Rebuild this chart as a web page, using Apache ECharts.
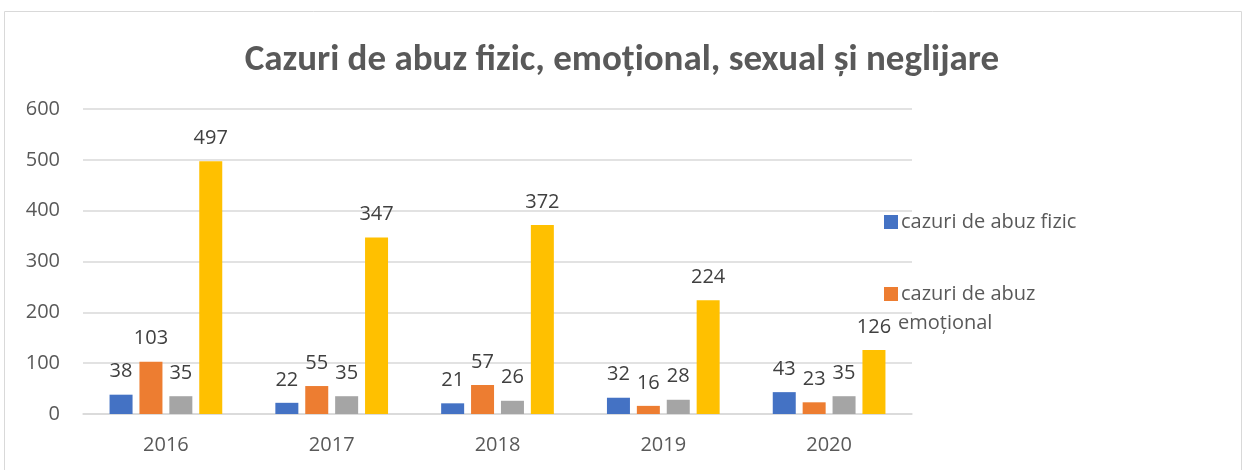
<!DOCTYPE html>
<html>
<head>
<meta charset="utf-8">
<script src="https://cdn.jsdelivr.net/npm/echarts@6/dist/echarts.min.js"></script>
<style>
  body { margin: 0; background: #fff; }
  #main { width: 1244px; height: 470px; }
</style>
</head>
<body>
<div id="main"></div>
<script>
// date
var ani = ['2016', '2017', '2018', '2019', '2020'];
var abuzFizic = [38, 22, 21, 32, 43];
var abuzEmotional = [103, 55, 57, 16, 23];
var abuzSexual = [35, 35, 26, 28, 35];
var neglijare = [497, 347, 372, 224, 126];
var yTicks = [0, 100, 200, 300, 400, 500, 600];

var numeSerii = ['cazuri de abuz fizic', 'cazuri de abuz emoțional', 'cazuri de abuz sexual', 'cazuri de neglijare'];
var culori = ['#4472C4', '#ED7D31', '#A5A5A5', '#FFC000'];
var font = '"Open Sans", "Noto Sans", sans-serif';
var fontTitlu = 'Calibri, Carlito, Lato, sans-serif';

var myChart = echarts.init(document.getElementById('main'));

function serie(i, data) {
  return {
    name: numeSerii[i],
    type: 'bar',
    barWidth: 23,
    barGap: '30%',
    itemStyle: { color: culori[i] },
    label: {
      show: true,
      position: 'top',
      distance: 13,
      color: '#404040',
      fontSize: 20,
      fontFamily: font
    },
    data: data
  };
}

var option = {
  animation: false,
  graphic: [{
    type: 'rect',
    shape: { x: 4.5, y: 11.5, width: 1237, height: 480 },
    style: { fill: 'none', stroke: '#d9d9d9', lineWidth: 1 }
  }, {
    // al doilea rand al legendei (in original textul e rupt pe doua linii)
    type: 'text',
    left: 898,
    top: 313,
    style: {
      text: 'emoțional',
      fill: '#595959',
      fontSize: 20,
      fontFamily: font
    }
  }],
  title: {
    text: 'Cazuri de abuz fizic, emoțional, sexual și neglijare',
    left: 'center',
    top: 37,
    textStyle: {
      color: '#595959',
      fontSize: 37,
      fontWeight: 'bold',
      fontFamily: fontTitlu
    }
  },
  legend: {
    orient: 'vertical',
    left: 879,
    top: 205,
    itemWidth: 14,
    itemHeight: 14,
    itemGap: 48,
    icon: 'rect',
    data: [numeSerii[0], numeSerii[1]],
    formatter: function (name) {
      return name === numeSerii[1] ? 'cazuri de abuz' : name;
    },
    textStyle: {
      color: '#595959',
      fontSize: 20,
      lineHeight: 24,
      padding: [0, 0, 0, -2],
      fontFamily: font
    }
  },
  grid: {
    left: 83,
    right: 332,
    top: 109,
    bottom: 56
  },
  xAxis: {
    type: 'category',
    data: ani,
    axisLine: { lineStyle: { color: '#d9d9d9', width: 1.5 } },
    axisTick: { show: false },
    axisLabel: {
      color: '#595959',
      fontSize: 20,
      margin: 21,
      fontFamily: font
    }
  },
  yAxis: {
    type: 'value',
    min: yTicks[0],
    max: yTicks[yTicks.length - 1],
    interval: 100,
    axisLine: { show: false },
    axisTick: { show: false },
    splitLine: { lineStyle: { color: '#d9d9d9', width: 1.5 } },
    axisLabel: {
      color: '#595959',
      fontSize: 20,
      margin: 23,
      fontFamily: font
    }
  },
  series: [
    serie(0, abuzFizic),
    serie(1, abuzEmotional),
    serie(2, abuzSexual),
    serie(3, neglijare)
  ]
};

myChart.setOption(option);
window.addEventListener('resize', function () {
  myChart.resize();
});
</script>
</body>
</html>
